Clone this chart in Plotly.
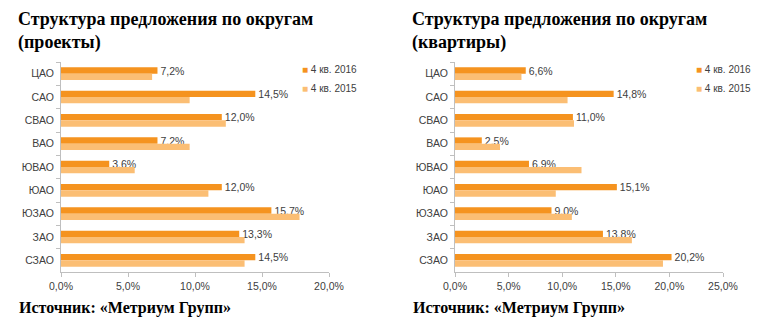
import plotly.graph_objects as go

districts = ["ЦАО", "САО", "СВАО", "ВАО", "ЮВАО", "ЮАО", "ЮЗАО", "ЗАО", "СЗАО"]

projects_2016 = [7.2, 14.5, 12.0, 7.2, 3.6, 12.0, 15.7, 13.3, 14.5]
projects_2015 = [6.8, 9.6, 12.3, 9.6, 5.5, 11.0, 17.8, 13.7, 13.7]

flats_2016 = [6.6, 14.8, 11.0, 2.5, 6.9, 15.1, 9.0, 13.8, 20.2]
flats_2015 = [6.2, 10.5, 11.1, 4.2, 11.8, 9.4, 10.9, 16.5, 19.4]

series_names = ["4 кв. 2016", "4 кв. 2015"]
titles = ["Структура предложения по округам<br>(проекты)",
          "Структура предложения по округам<br>(квартиры)"]
source_text = "Источник: «Метриум Групп»"
x_ticks_left = [0, 5, 10, 15, 20]
x_ticks_right = [0, 5, 10, 15, 20, 25]

C16 = "#F5931F"
C15 = "#FBBE74"
AX = "#BFBFBF"
TXT = "#404040"
SANS = "Liberation Sans"
SERIF = "Liberation Serif"

W, H = 766, 321

fig = go.Figure()

panels = [
    (projects_2016, projects_2015, "x", "y"),
    (flats_2016, flats_2015, "x2", "y2"),
]

for v16, v15, xa, ya in panels:
    fig.add_trace(go.Bar(
        y=districts, x=v16, orientation="h", marker_color=C16, name=series_names[0],
        xaxis=xa, yaxis=ya, showlegend=False,
        text=[f"{v:.1f}%".replace(".", ",") for v in v16], textposition="outside",
        constraintext="none",
        textfont=dict(family=SANS, size=10.5, color=TXT), cliponaxis=False,
    ))
    fig.add_trace(go.Bar(
        y=districts, x=v15, orientation="h", marker_color=C15, name=series_names[1],
        xaxis=xa, yaxis=ya, showlegend=False,
    ))

ydom = [(H - 272) / H, (H - 62) / H]

def xaxis(dom, ticks, rng, anchor):
    return dict(
        domain=dom, range=rng, tickvals=ticks, anchor=anchor, automargin=False,
        ticktext=[f"{t:.1f}%".replace(".", ",") for t in ticks],
        showgrid=False, zeroline=False, showline=True, linecolor=AX, linewidth=1,
        ticks="outside", ticklen=4, tickcolor=AX,
        tickfont=dict(family=SANS, size=10.5, color=TXT), fixedrange=True,
    )

def yaxis(anchor):
    return dict(
        domain=ydom, anchor=anchor, autorange="reversed", type="category",
        automargin=False, ticklabelstandoff=4,
        showgrid=False, zeroline=False, showline=True, linecolor=AX, linewidth=1,
        ticks="outside", ticklen=4, tickcolor=AX, tickson="boundaries",
        tickfont=dict(family=SANS, size=10.5, color=TXT),
    )

fig.update_layout(
    template="none",
    width=W, height=H, margin=dict(l=0, r=0, t=0, b=0, autoexpand=False),
    paper_bgcolor="white", plot_bgcolor="white",
    barmode="group", bargap=0.46, bargroupgap=0.0, showlegend=False,
    xaxis=xaxis([61 / W, 329 / W], x_ticks_left, [0, 20], "y"),
    yaxis=yaxis("x"),
    xaxis2=xaxis([455 / W, 723 / W], x_ticks_right, [0, 25], "y2"),
    yaxis2=yaxis("x2"),
)

# legends
for lx in [300, 694]:
    for i, (nm, col) in enumerate(zip(series_names, [C16, C15])):
        fig.add_annotation(
            x=lx / W, y=(H - (69 + 19 * i)) / H, xref="paper", yref="paper",
            xanchor="left", yanchor="middle", showarrow=False,
            text=f'<span style="color:{col}">■</span> {nm}',
            font=dict(family=SANS, size=10, color=TXT))

for xp, t in [(16, titles[0]), (410, titles[1])]:
    fig.add_annotation(x=xp / W, y=1 - 7 / H, xref="paper", yref="paper",
                       xanchor="left", yanchor="top", align="left", showarrow=False,
                       text=f"<b>{t}</b>", font=dict(family=SERIF, size=18, color="#000"))
for xp in [17, 411]:
    fig.add_annotation(x=xp / W, y=(H - 308) / H, xref="paper", yref="paper",
                       xanchor="left", yanchor="middle", showarrow=False,
                       text=f"<b>{source_text}</b>", font=dict(family=SERIF, size=16, color="#000"))

fig.write_html("out.html")
